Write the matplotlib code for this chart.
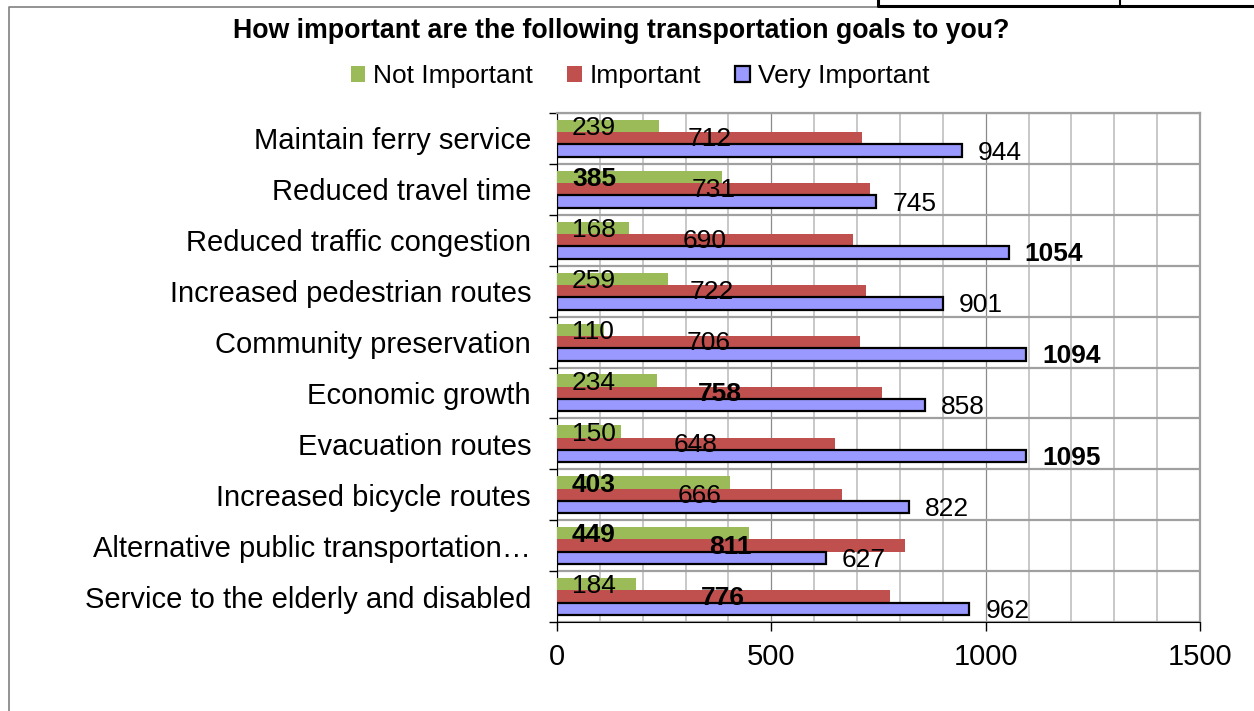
import numpy as np
from matplotlib import pyplot as plt
from matplotlib.patches import Patch
from matplotlib.lines import Line2D

goals = ["Maintain ferry service", "Reduced travel time", "Reduced traffic congestion",
         "Increased pedestrian routes", "Community preservation", "Economic growth",
         "Evacuation routes", "Increased bicycle routes", "Alternative public transportation\u2026",
         "Service to the elderly and disabled"]
not_important = [239, 385, 168, 259, 110, 234, 150, 403, 449, 184]
important = [712, 731, 690, 722, 706, 758, 648, 666, 811, 776]
very_important = [944, 745, 1054, 901, 1094, 858, 1095, 822, 627, 962]

# which labels are printed in bold in the original
bold_not = [385, 403, 449]
bold_imp = [758, 811, 776]
bold_very = [1054, 1094, 1095]

plt.rcParams['font.family'] = ['Liberation Sans', 'DejaVu Sans']

W, H = 1254, 711
fig = plt.figure(figsize=(W / 100, H / 100), dpi=100)
ax = fig.add_axes([557 / W, 1 - 622 / H, (1200 - 557) / W, (622 - 113) / H])

green = '#9BBB59'
red = '#C0504D'
blue = '#9999FF'

y = np.arange(len(goals))
h = 0.245
off = 0.24
ax.barh(y - off, not_important, height=h, color=green, zorder=3)
ax.barh(y, important, height=h, color=red, zorder=3)
ax.barh(y + off, very_important, height=h, color=blue, edgecolor='black', linewidth=1.6, zorder=4)

px = 0.72
for i in range(len(goals)):
    v = not_important[i]
    ax.annotate(str(v), (0, y[i] - off), xytext=(15 * px, -2 * px), textcoords='offset points',
                ha='left', va='center', fontsize=19, zorder=5,
                fontweight='bold' if v in bold_not else 'normal')
    v = important[i]
    ax.annotate(str(v), (v / 2, y[i]), xytext=(0, -1 * px), textcoords='offset points',
                ha='center', va='center', fontsize=19, zorder=5,
                fontweight='bold' if v in bold_imp else 'normal')
    v = very_important[i]
    ax.annotate(str(v), (v, y[i] + off), xytext=(16 * px, -2 * px), textcoords='offset points',
                ha='left', va='center', fontsize=19, zorder=5,
                fontweight='bold' if v in bold_very else 'normal')

ax.set_xlim(0, 1500)
ax.set_ylim(len(goals) - 0.5, -0.5)
ax.set_xticks([0, 500, 1000, 1500])
ax.set_xticks(np.arange(0, 1501, 100), minor=True)
ax.set_yticks(y)
ax.set_yticklabels(goals, fontsize=21)
ax.set_yticks(np.arange(-0.5, len(goals)), minor=True)
ax.tick_params(axis='y', which='major', length=0, pad=26 * px)
ax.tick_params(axis='y', which='minor', length=8 * px, width=1, direction='out')
ax.tick_params(axis='x', which='major', length=9 * px, width=1, pad=12 * px, labelsize=21)
ax.tick_params(axis='x', which='minor', length=0)

ax.set_axisbelow(True)
ax.grid(axis='x', which='minor', color='#c8c8c8', linewidth=1.4)
ax.grid(axis='x', which='major', color='#8a8a8a', linewidth=0.9)
ax.grid(axis='y', which='minor', color='#a0a0a0', linewidth=1.6)

ax.spines['top'].set_color('#a0a0a0')
ax.spines['top'].set_linewidth(1.6)
ax.spines['right'].set_color('#a0a0a0')
ax.spines['right'].set_linewidth(1.6)
ax.spines['left'].set_color('black')
ax.spines['bottom'].set_color('black')

fig.text(621 / W, 1 - 31 / H, "How important are the following transportation goals to you?",
         ha='center', va='center', fontsize=19.3, fontweight='bold')

handles = [Patch(facecolor=green, edgecolor='none'),
           Patch(facecolor=red, edgecolor='none'),
           Patch(facecolor=blue, edgecolor='black', linewidth=1.6)]
fig.legend(handles, ['Not Important', 'Important', 'Very Important'], loc='center',
           bbox_to_anchor=(640 / W, 1 - 76 / H), ncol=3, frameon=False, fontsize=19,
           handlelength=0.55, handleheight=0.55, handletextpad=0.3, columnspacing=1.3)

# outer chart border and the box cut off at the top
fig.add_artist(Line2D([9 / W, 9 / W, 878 / W], [0, 1 - 7 / H, 1 - 7 / H],
                      transform=fig.transFigure, color='#808080', linewidth=1.2))
fig.add_artist(Line2D([878 / W, 878 / W, 1], [1, 1 - 6 / H, 1 - 6 / H],
                      transform=fig.transFigure, color='black', linewidth=2.2))
fig.add_artist(Line2D([1120 / W, 1120 / W], [1, 1 - 6 / H],
                      transform=fig.transFigure, color='black', linewidth=1.5))

plt.savefig('out.png', dpi=100)
